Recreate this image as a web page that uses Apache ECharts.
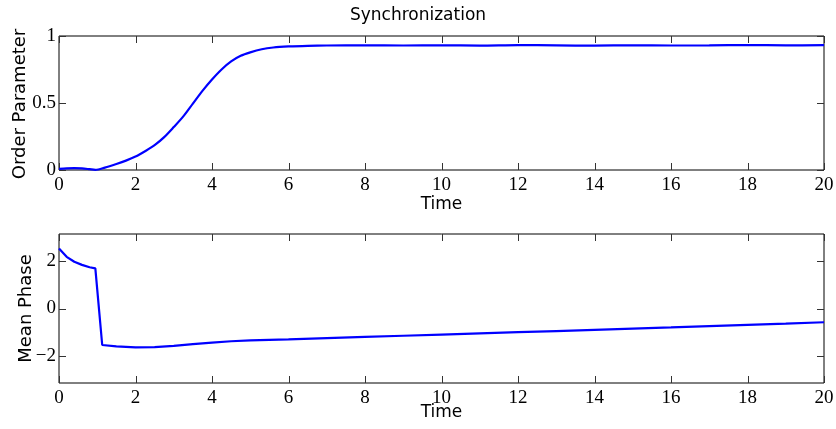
<!DOCTYPE html>
<html>
<head>
<meta charset="utf-8">
<script src="https://cdn.jsdelivr.net/npm/echarts@6/dist/echarts.min.js"></script>
<style>html,body{margin:0;padding:0;background:#fff}#c{width:836px;height:429px}</style>
</head>
<body>
<div id="c"></div>
<script>
// Data
const timeTop = [0,0.2,0.4,0.6,0.8,0.95,1.2,1.5,1.75,2.0,2.25,2.5,2.75,3.0,3.25,3.5,3.75,4.0,4.25,4.5,4.75,5.0,5.3,5.6,6.0,6.5,7,8,9,10,11,12,13,14,15,16,17,18,19,20];
const orderParam = [0.008,0.012,0.014,0.012,0.006,0.001,0.018,0.045,0.07,0.10,0.14,0.185,0.245,0.32,0.40,0.495,0.59,0.675,0.75,0.81,0.852,0.878,0.901,0.914,0.922,0.927,0.929,0.930,0.929,0.931,0.928,0.932,0.930,0.928,0.931,0.929,0.930,0.933,0.930,0.932];
const timeBottom = [0,0.2,0.4,0.6,0.8,0.95,1.13,1.5,2.0,2.5,3.0,3.5,4.0,4.5,5.0,6.0,7,8,9,10,11,12,13,14,15,16,17,18,19,20];
const meanPhase = [2.53,2.18,1.97,1.84,1.74,1.69,-1.54,-1.60,-1.64,-1.63,-1.58,-1.50,-1.44,-1.38,-1.34,-1.30,-1.25,-1.20,-1.15,-1.10,-1.05,-1.00,-0.95,-0.90,-0.85,-0.80,-0.74,-0.69,-0.64,-0.58];
const xTicks = [0,2,4,6,8,10,12,14,16,18,20];
const yTicksTop = [0,0.5,1];
const yTicksBottom = [-2,0,2];
const titleText = 'Synchronization';
const xName = 'Time';
const yNameTop = 'Order Parameter';
const yNameBottom = 'Mean Phase';

const pairs = (xs, ys) => xs.map((x, i) => [x, ys[i]]);
const serif = 'Liberation Serif';
const sans = 'DejaVu Sans';
const fmt = v => String(v).replace('-', '\u2212');
const xMin = xTicks[0], xMax = xTicks[xTicks.length - 1], xStep = xTicks[1] - xTicks[0];
const yTopMin = yTicksTop[0], yTopMax = yTicksTop[yTicksTop.length - 1];
const yBotMin = -Math.PI, yBotMax = Math.PI;
const TICK_LEN = 7;
const tickStroke = {stroke: '#333', lineWidth: 1};

// Inward MATLAB-style ticks on all four box edges, positioned through the axes' own scales
function xTickSeries(gi, yMin, yMax) {
  return {
    type: 'custom', xAxisIndex: gi, yAxisIndex: gi, silent: true, z: 3,
    data: xTicks.map(v => [v, yMin]), encode: {x: 0, y: 1},
    renderItem: (params, api) => {
      const v = api.value(0);
      const b = api.coord([v, yMin]);
      const t = api.coord([v, yMax]);
      const x = Math.round(b[0]) + 0.5;
      return {type: 'group', children: [
        {type: 'line', shape: {x1: x, y1: b[1], x2: x, y2: b[1] - TICK_LEN}, style: tickStroke},
        {type: 'line', shape: {x1: x, y1: t[1], x2: x, y2: t[1] + TICK_LEN}, style: tickStroke}
      ]};
    }
  };
}
function yTickSeries(gi, ticks) {
  return {
    type: 'custom', xAxisIndex: gi, yAxisIndex: gi, silent: true, z: 3,
    data: ticks.map(v => [xMin, v]), encode: {x: 0, y: 1},
    renderItem: (params, api) => {
      const v = api.value(1);
      const l = api.coord([xMin, v]);
      const r = api.coord([xMax, v]);
      const y = Math.round(l[1]) + 0.5;
      return {type: 'group', children: [
        {type: 'line', shape: {x1: l[0], y1: y, x2: l[0] + TICK_LEN, y2: y}, style: tickStroke},
        {type: 'line', shape: {x1: r[0], y1: y, x2: r[0] - TICK_LEN, y2: y}, style: tickStroke}
      ]};
    }
  };
}

const chart = echarts.init(document.getElementById('c'), null, {renderer: 'canvas'});
chart.setOption({
  animation: false,
  backgroundColor: '#fff',
  title: {
    text: titleText, left: 'center', top: 2,
    textStyle: {fontFamily: sans, fontSize: 17, fontWeight: 'normal', color: '#000'}
  },
  grid: [
    {left: 59, right: 12, top: 36, height: 134, show: true, borderColor: '#000', borderWidth: 1, backgroundColor: 'transparent', outerBoundsMode: 'none'},
    {left: 59, right: 12, top: 234, height: 149, show: true, borderColor: '#000', borderWidth: 1, backgroundColor: 'transparent', outerBoundsMode: 'none'}
  ],
  xAxis: [0, 1].map(gi => ({
    type: 'value', gridIndex: gi, min: xMin, max: xMax, interval: xStep,
    axisLine: {show: false, onZero: false}, axisTick: {show: false}, splitLine: {show: false},
    axisLabel: {margin: 6, fontFamily: serif, fontSize: 19, color: '#000', formatter: fmt}
  })),
  yAxis: [
    {
      type: 'value', gridIndex: 0, min: yTopMin, max: yTopMax, interval: yTicksTop[1] - yTicksTop[0],
      axisLine: {show: false, onZero: false}, axisTick: {show: false}, splitLine: {show: false},
      axisLabel: {margin: 3, fontFamily: serif, fontSize: 19, color: '#000', formatter: fmt}
    },
    {
      type: 'value', gridIndex: 1, min: yBotMin, max: yBotMax,
      axisLine: {show: false, onZero: false}, axisTick: {show: false}, splitLine: {show: false},
      axisLabel: {margin: 3, fontFamily: serif, fontSize: 19, color: '#000', customValues: yTicksBottom, formatter: fmt}
    }
  ],
  graphic: [
    {type: 'text', x: 441.5, y: 205, style: {text: xName, font: '17px "DejaVu Sans"', fill: '#000', align: 'center', verticalAlign: 'middle', textAlign: 'center', textVerticalAlign: 'middle'}},
    {type: 'text', x: 441.5, y: 413, style: {text: xName, font: '17px "DejaVu Sans"', fill: '#000', align: 'center', verticalAlign: 'middle', textAlign: 'center', textVerticalAlign: 'middle'}},
    {type: 'text', x: 20, y: 104, rotation: Math.PI / 2, style: {text: yNameTop, font: '18px "DejaVu Sans"', fill: '#000', align: 'center', verticalAlign: 'middle', textAlign: 'center', textVerticalAlign: 'middle'}},
    {type: 'text', x: 26, y: 308.5, rotation: Math.PI / 2, style: {text: yNameBottom, font: '18px "DejaVu Sans"', fill: '#000', align: 'center', verticalAlign: 'middle', textAlign: 'center', textVerticalAlign: 'middle'}}
  ],
  series: [
    xTickSeries(0, yTopMin, yTopMax),
    yTickSeries(0, yTicksTop),
    xTickSeries(1, yBotMin, yBotMax),
    yTickSeries(1, yTicksBottom),
    {
      type: 'line', xAxisIndex: 0, yAxisIndex: 0, data: pairs(timeTop, orderParam),
      showSymbol: false, smooth: 0.3, lineStyle: {color: '#0000ff', width: 2.2}, z: 4
    },
    {
      type: 'line', xAxisIndex: 1, yAxisIndex: 1, data: pairs(timeBottom, meanPhase),
      showSymbol: false, smooth: false, lineStyle: {color: '#0000ff', width: 2.2}, z: 4
    }
  ]
});
</script>
</body>
</html>
